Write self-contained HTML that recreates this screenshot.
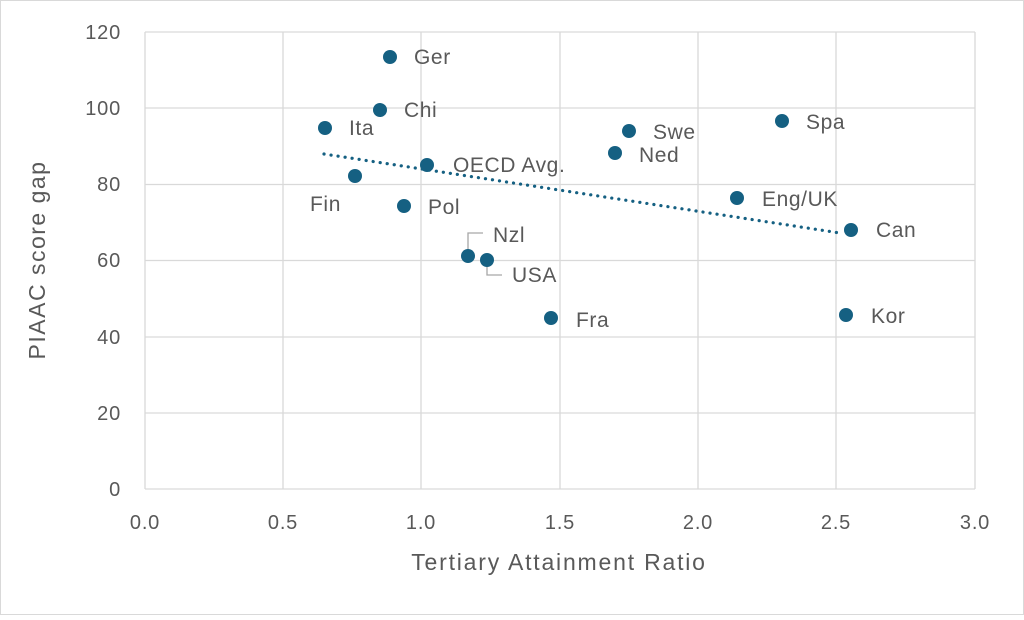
<!DOCTYPE html>
<html><head><style>
body{margin:0;background:#fff;}
svg text{font-family:"Liberation Sans",sans-serif;fill:#595959;}
</style></head><body>
<svg width="1024" height="615" viewBox="0 0 1024 615" xmlns="http://www.w3.org/2000/svg">
<rect x="0.5" y="0.5" width="1023" height="614" fill="#fff" stroke="#d9d9d9"/>
<g stroke="#d9d9d9" stroke-width="1.3">
<line x1="145" y1="32" x2="975" y2="32"/>
<line x1="145" y1="108" x2="975" y2="108"/>
<line x1="145" y1="184.5" x2="975" y2="184.5"/>
<line x1="145" y1="260.5" x2="975" y2="260.5"/>
<line x1="145" y1="337" x2="975" y2="337"/>
<line x1="145" y1="413" x2="975" y2="413"/>
<line x1="145" y1="489" x2="975" y2="489"/>
<line x1="145" y1="32" x2="145" y2="489"/>
<line x1="283" y1="32" x2="283" y2="489"/>
<line x1="421" y1="32" x2="421" y2="489"/>
<line x1="560" y1="32" x2="560" y2="489"/>
<line x1="698" y1="32" x2="698" y2="489"/>
<line x1="836" y1="32" x2="836" y2="489"/>
<line x1="975" y1="32" x2="975" y2="489"/>
</g>
<g font-size="20" text-anchor="end" letter-spacing="0.8">
<text x="121" y="39">120</text><text x="121" y="115">100</text><text x="121" y="191">80</text>
<text x="121" y="267">60</text><text x="121" y="344">40</text><text x="121" y="420">20</text><text x="121" y="496">0</text>
</g>
<g font-size="20" text-anchor="middle" letter-spacing="0.8">
<text x="145" y="529">0.0</text><text x="283" y="529">0.5</text><text x="421" y="529">1.0</text>
<text x="560" y="529">1.5</text><text x="698" y="529">2.0</text><text x="836" y="529">2.5</text><text x="975" y="529">3.0</text>
</g>
<text x="559" y="570" font-size="23" text-anchor="middle" letter-spacing="1.8">Tertiary Attainment Ratio</text>
<text transform="translate(45,260) rotate(-90)" font-size="23" text-anchor="middle" letter-spacing="1.5">PIAAC score gap</text>
<line x1="324" y1="154" x2="840" y2="233" stroke="#156082" stroke-width="3.2" stroke-dasharray="0.1 7" stroke-linecap="round"/>
<g stroke="#a6a6a6" fill="none" stroke-width="1.3">
<polyline points="468,253 468,233 483,233"/>
<polyline points="487,262 487,275 502,275"/>
</g>
<g fill="#156082">
<circle cx="390" cy="57" r="7"/><circle cx="380" cy="110" r="7"/><circle cx="325" cy="128" r="7"/>
<circle cx="427" cy="165" r="7"/><circle cx="355" cy="176" r="7"/><circle cx="404" cy="206" r="7"/>
<circle cx="468" cy="256" r="7"/><circle cx="487" cy="260" r="7"/><circle cx="551" cy="318" r="7"/>
<circle cx="615" cy="153" r="7"/><circle cx="629" cy="131" r="7"/><circle cx="737" cy="198" r="7"/>
<circle cx="782" cy="121" r="7"/><circle cx="851" cy="230" r="7"/><circle cx="846" cy="315" r="7"/>
</g>
<g font-size="21" fill="#404040" letter-spacing="0.6">
<text x="414" y="64">Ger</text><text x="404" y="117">Chi</text><text x="349" y="135">Ita</text>
<text x="453" y="172">OECD Avg.</text><text x="310" y="211">Fin</text><text x="428" y="214">Pol</text>
<text x="493" y="242">Nzl</text><text x="512" y="282">USA</text><text x="576" y="327">Fra</text>
<text x="639" y="162">Ned</text><text x="653" y="139">Swe</text><text x="762" y="206">Eng/UK</text>
<text x="806" y="129">Spa</text><text x="876" y="237">Can</text><text x="871" y="323">Kor</text>
</g>
</svg>
</body></html>
